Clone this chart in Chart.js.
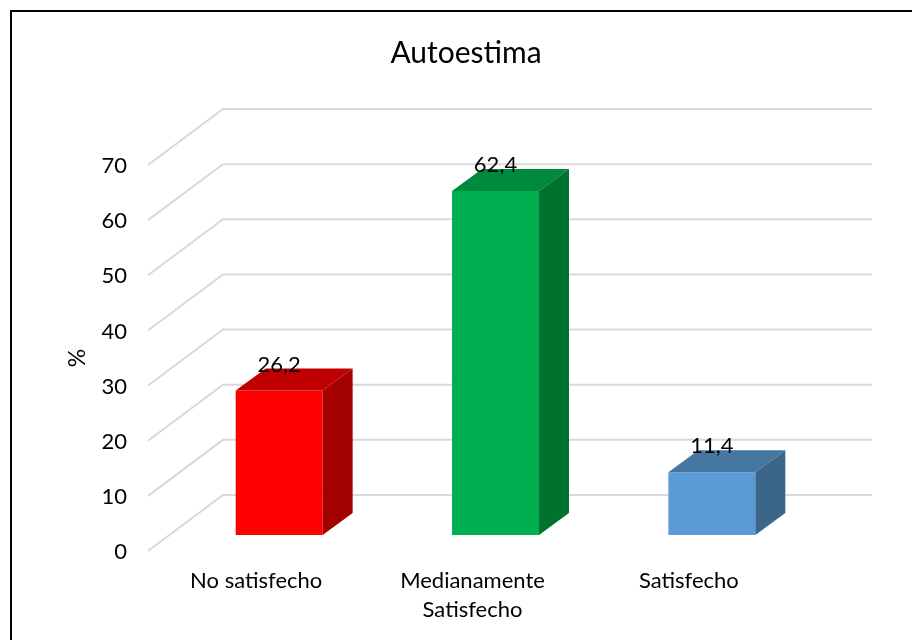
<!DOCTYPE html>
<html>
<head>
<meta charset="utf-8">
<script src="https://cdn.jsdelivr.net/npm/chart.js@4"></script>
<style>
  html, body { margin: 0; padding: 0; background: #fff; overflow: hidden; }
  #wrap { position: relative; width: 912px; height: 640px; }
  #frame { position: absolute; left: 10px; top: 10px; width: 1000px; height: 1000px; border: 2px solid #000; pointer-events: none; }
</style>
</head>
<body>
<div id="wrap">
  <canvas id="c" width="912" height="640"></canvas>
  <div id="frame"></div>
</div>
<script>
const categories = ['No satisfecho', ['Medianamente', 'Satisfecho'], 'Satisfecho'];
const values = [26.2, 62.4, 11.4];
const frontColors = ['#FF0000', '#00B050', '#5B9BD5'];
const topColors = ['#C00000', '#008A3E', '#4676A2'];
const sideColors = ['#A30000', '#00722F', '#3B6589'];
const yMin = 0, yMax = 70, yStep = 10;
const titleText = 'Autoestima';
const yTitle = '%';

const FONT = 'Lato';
const DEPTH_X = 30, DEPTH_Y = 22;          // bar depth
const FRONT_DX = -23, FRONT_DY = 16;       // front wall edge relative to bar plane
const BACK_DX = 52, BACK_DY = -40;         // back wall relative to bar plane

const threeD = {
  id: 'threeD',
  beforeDatasetsDraw(chart) {
    const ctx = chart.ctx, y = chart.scales.y, area = chart.chartArea;
    ctx.save();
    ctx.strokeStyle = '#D9D9D9';
    ctx.lineWidth = 2;
    y.ticks.forEach(t => {
      const py = y.getPixelForValue(t.value);
      ctx.beginPath();
      ctx.moveTo(area.left + FRONT_DX, py + FRONT_DY);
      ctx.lineTo(area.left + BACK_DX, py + BACK_DY);
      ctx.lineTo(area.right + BACK_DX, py + BACK_DY);
      ctx.stroke();
    });
    // y axis title
    const yc = (y.getPixelForValue(yMin) + y.getPixelForValue(yMax)) / 2 + FRONT_DY;
    ctx.translate(area.left - 93, yc);
    ctx.rotate(-Math.PI / 2);
    ctx.fillStyle = '#000';
    ctx.font = '23px ' + FONT;
    ctx.textAlign = 'center';
    ctx.textBaseline = 'middle';
    ctx.fillText(yTitle, 0, 0);
    ctx.restore();
  },
  afterDatasetsDraw(chart) {
    const ctx = chart.ctx;
    const meta = chart.getDatasetMeta(0);
    ctx.save();
    meta.data.forEach((bar, i) => {
      const p = bar.getProps(['x', 'y', 'width', 'base'], true);
      const l = p.x - p.width / 2, r = p.x + p.width / 2;
      ctx.fillStyle = topColors[i];
      ctx.beginPath();
      ctx.moveTo(l, p.y);
      ctx.lineTo(l + DEPTH_X, p.y - DEPTH_Y);
      ctx.lineTo(r + DEPTH_X, p.y - DEPTH_Y);
      ctx.lineTo(r, p.y);
      ctx.closePath();
      ctx.fill();
      ctx.fillStyle = sideColors[i];
      ctx.beginPath();
      ctx.moveTo(r, p.y);
      ctx.lineTo(r + DEPTH_X, p.y - DEPTH_Y);
      ctx.lineTo(r + DEPTH_X, p.base - DEPTH_Y);
      ctx.lineTo(r, p.base);
      ctx.closePath();
      ctx.fill();
    });
    ctx.fillStyle = '#000';
    ctx.font = '22px ' + FONT;
    ctx.textAlign = 'center';
    ctx.textBaseline = 'middle';
    meta.data.forEach((bar, i) => {
      const p = bar.getProps(['x', 'y'], true);
      ctx.fillText(String(values[i]).replace('.', ','), p.x, p.y - 26);
    });
    ctx.restore();
  }
};

new Chart(document.getElementById('c'), {
  type: 'bar',
  data: {
    labels: categories,
    datasets: [{
      data: values,
      backgroundColor: frontColors,
      borderWidth: 0,
      barPercentage: 0.402,
      categoryPercentage: 1
    }]
  },
  options: {
    responsive: false,
    animation: false,
    devicePixelRatio: 1,
    layout: { padding: { left: 20, right: 0, top: 0, bottom: 0 } },
    plugins: {
      legend: { display: false },
      tooltip: { enabled: false },
      title: {
        display: true,
        text: titleText,
        color: '#000',
        font: { family: FONT, size: 30, weight: 'normal', lineHeight: 1.2 },
        padding: { top: 35, bottom: 78 }
      }
    },
    scales: {
      x: {
        grid: { display: false, drawTicks: false },
        border: { display: false },
        ticks: {
          color: '#000',
          font: { family: FONT, size: 22, lineHeight: 1.3 },
          padding: 32,
          labelOffset: -23,
          maxRotation: 0,
          autoSkip: false
        },
        afterFit(s) { s.height = 105; }
      },
      y: {
        min: yMin,
        max: yMax,
        grid: { display: false, drawTicks: false },
        border: { display: false },
        ticks: {
          stepSize: yStep,
          color: '#000',
          font: { family: FONT, size: 22 },
          padding: 44,
          labelOffset: 17
        },
        afterFit(s) { s.width = 151; }
      },
      yRight: {
        position: 'right',
        min: yMin,
        max: yMax,
        grid: { display: false, drawTicks: false },
        border: { display: false },
        ticks: { display: false },
        afterFit(s) { s.width = 92; }
      }
    }
  },
  plugins: [threeD]
});
</script>
</body>
</html>
